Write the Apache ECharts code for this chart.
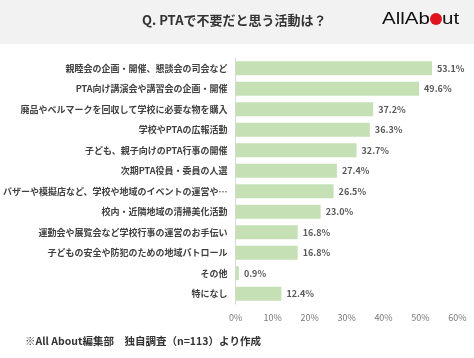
<!DOCTYPE html>
<html><head><meta charset="utf-8">
<script src="https://cdn.jsdelivr.net/npm/echarts@6/dist/echarts.min.js"></script>
<style>html,body{margin:0;padding:0;background:#fff}#c{width:474px;height:358px}</style>
</head><body><div id="c"></div>
<script>
const categories = [
  "親睦会の企画・開催、懇談会の司会など",
  "PTA向け講演会や講習会の企画・開催",
  "廃品やベルマークを回収して学校に必要な物を購入",
  "学校やPTAの広報活動",
  "子ども、親子向けのPTA行事の開催",
  "次期PTA役員・委員の人選",
  "バザーや模擬店など、学校や地域のイベントの運営や…",
  "校内・近隣地域の清掃美化活動",
  "運動会や展覧会など学校行事の運営のお手伝い",
  "子どもの安全や防犯のための地域パトロール",
  "その他",
  "特になし"
];
const values = [53.1, 49.6, 37.2, 36.3, 32.7, 27.4, 26.5, 23.0, 16.8, 16.8, 0.9, 12.4];
const axisMax = 60;
const axisStep = 10;
const titleText = "Q. PTAで不要だと思う活動は？";
const sourceText = "※All About編集部　独自調査（n=113）より作成";

const font = "'Noto Sans CJK JP','Noto Sans',sans-serif";
const logoFont = "16px 'Liberation Sans','DejaVu Sans',sans-serif";
const chart = echarts.init(document.getElementById('c'), null, {renderer:'canvas'});
chart.setOption({
  backgroundColor: '#ffffff',
  animation: false,
  graphic: [
    {type:'rect', z:-1, shape:{x:0,y:0,width:474,height:44}, style:{fill:'#f2f2f2'}},
    {type:'text', left:142, top:14, style:{text:titleText, font:"bold 13px "+font, fill:'#333333'}},
    {type:'text', x:382, y:19.5, scaleX:1.28, style:{text:'AllAb', font:logoFont, fill:'#111111', verticalAlign:'middle'}},
    {type:'circle', shape:{cx:436, cy:19, r:6}, style:{fill:'#e0141e'}},
    {type:'text', x:442, y:19.5, scaleX:1.28, style:{text:'ut', font:logoFont, fill:'#111111', verticalAlign:'middle'}},
    {type:'text', left:25, top:336, style:{text:sourceText, font:"bold 10.5px "+font, fill:'#333333'}}
  ],
  grid: {left:218, right:16.5, top:58, height:246, containLabel:false},
  xAxis: {
    type:'value', min:0, max:axisMax, interval:axisStep,
    axisLine:{show:false}, axisTick:{show:false}, splitLine:{show:false},
    axisLabel:{formatter:'{value}%', color:'#777777', fontSize:9, fontFamily:font, margin:9}
  },
  yAxis: {
    type:'category', inverse:true, data:categories,
    axisLine:{show:true, lineStyle:{color:'#d9d9d9', width:1}},
    axisTick:{show:false},
    axisLabel:{color:'#404040', fontSize:9, fontWeight:'bold', fontFamily:font, margin:8}
  },
  series: [{
    type:'bar', data:values, barWidth:14,
    itemStyle:{color:'#c5e0b4'},
    label:{show:true, position:'right', distance:5, formatter:p=>p.value.toFixed(1)+'%',
      color:'#595959', fontSize:9, fontWeight:'bold', fontFamily:font}
  }]
});
</script></body></html>
